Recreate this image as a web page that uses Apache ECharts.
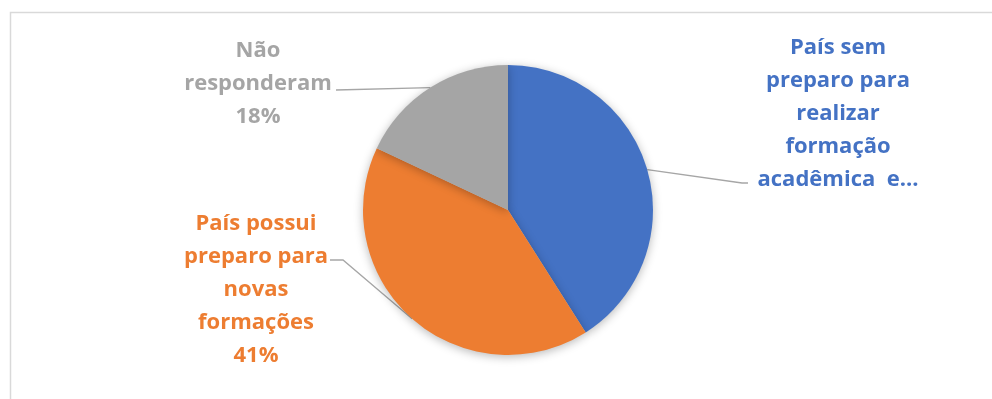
<!DOCTYPE html>
<html><head><meta charset="utf-8">
<script src="https://cdn.jsdelivr.net/npm/echarts@6/dist/echarts.min.js"></script>
<style>html,body{margin:0;padding:0;background:#fff}#c{width:992px;height:399px}</style>
</head><body><div id="c"></div>
<script>
const categories = ['País sem preparo para realizar formação acadêmica e...', 'País possui preparo para novas formações', 'Não responderam'];
const labelTexts = ['País sem\npreparo para\nrealizar\nformação\nacadêmica  e...', 'País possui\npreparo para\nnovas\nformações\n41%', 'Não\nresponderam\n18%'];
const values = [41, 41, 18];
const colors = ['#4472C4', '#ED7D31', '#A5A5A5'];
// label anchor positions (centre of text block) and label-line end points
const labelAnchors = [[838, 114], [256, 290], [258, 84]];
const lineEnds = [[[742, 183], [748, 183]], [[343, 260], [330, 260]], [[336, 90]]];

const chart = echarts.init(document.getElementById('c'), null, {renderer: 'canvas'});
const data = categories.map((n, i) => ({
  name: n, value: values[i],
  itemStyle: {color: colors[i]},
  label: {color: colors[i]}
}));
chart.setOption({
  animation: false,
  graphic: [{
    type: 'rect', silent: true, z: -10,
    shape: {x: 10.5, y: 12.5, width: 1000, height: 400},
    style: {fill: 'none', stroke: '#D9D9D9', lineWidth: 1.5}
  }],
  series: [{
    type: 'pie',
    center: [508, 210],
    radius: 145,
    startAngle: 90,
    clockwise: true,
    data: data,
    itemStyle: {shadowBlur: 10, shadowColor: 'rgba(0,0,0,0.28)', shadowOffsetY: 2, borderWidth: 0},
    emphasis: {disabled: true},
    label: {
      show: true,
      position: 'outside',
      formatter: p => labelTexts[p.dataIndex],
      fontFamily: 'Open Sans',
      fontWeight: 'bold',
      fontSize: 22,
      lineHeight: 33,
      align: 'center'
    },
    labelLine: {show: true, length: 20, length2: 20, lineStyle: {color: '#A6A6A6', width: 1.3}},
    labelLayout: function (params) {
      const i = params.dataIndex;
      const a = labelAnchors[i];
      const start = params.labelLinePoints ? params.labelLinePoints[0] : null;
      const out = {x: a[0], y: a[1], align: 'center', verticalAlign: 'middle'};
      if (start) out.labelLinePoints = [start].concat(lineEnds[i]);
      return out;
    }
  }]
});
</script></body></html>
